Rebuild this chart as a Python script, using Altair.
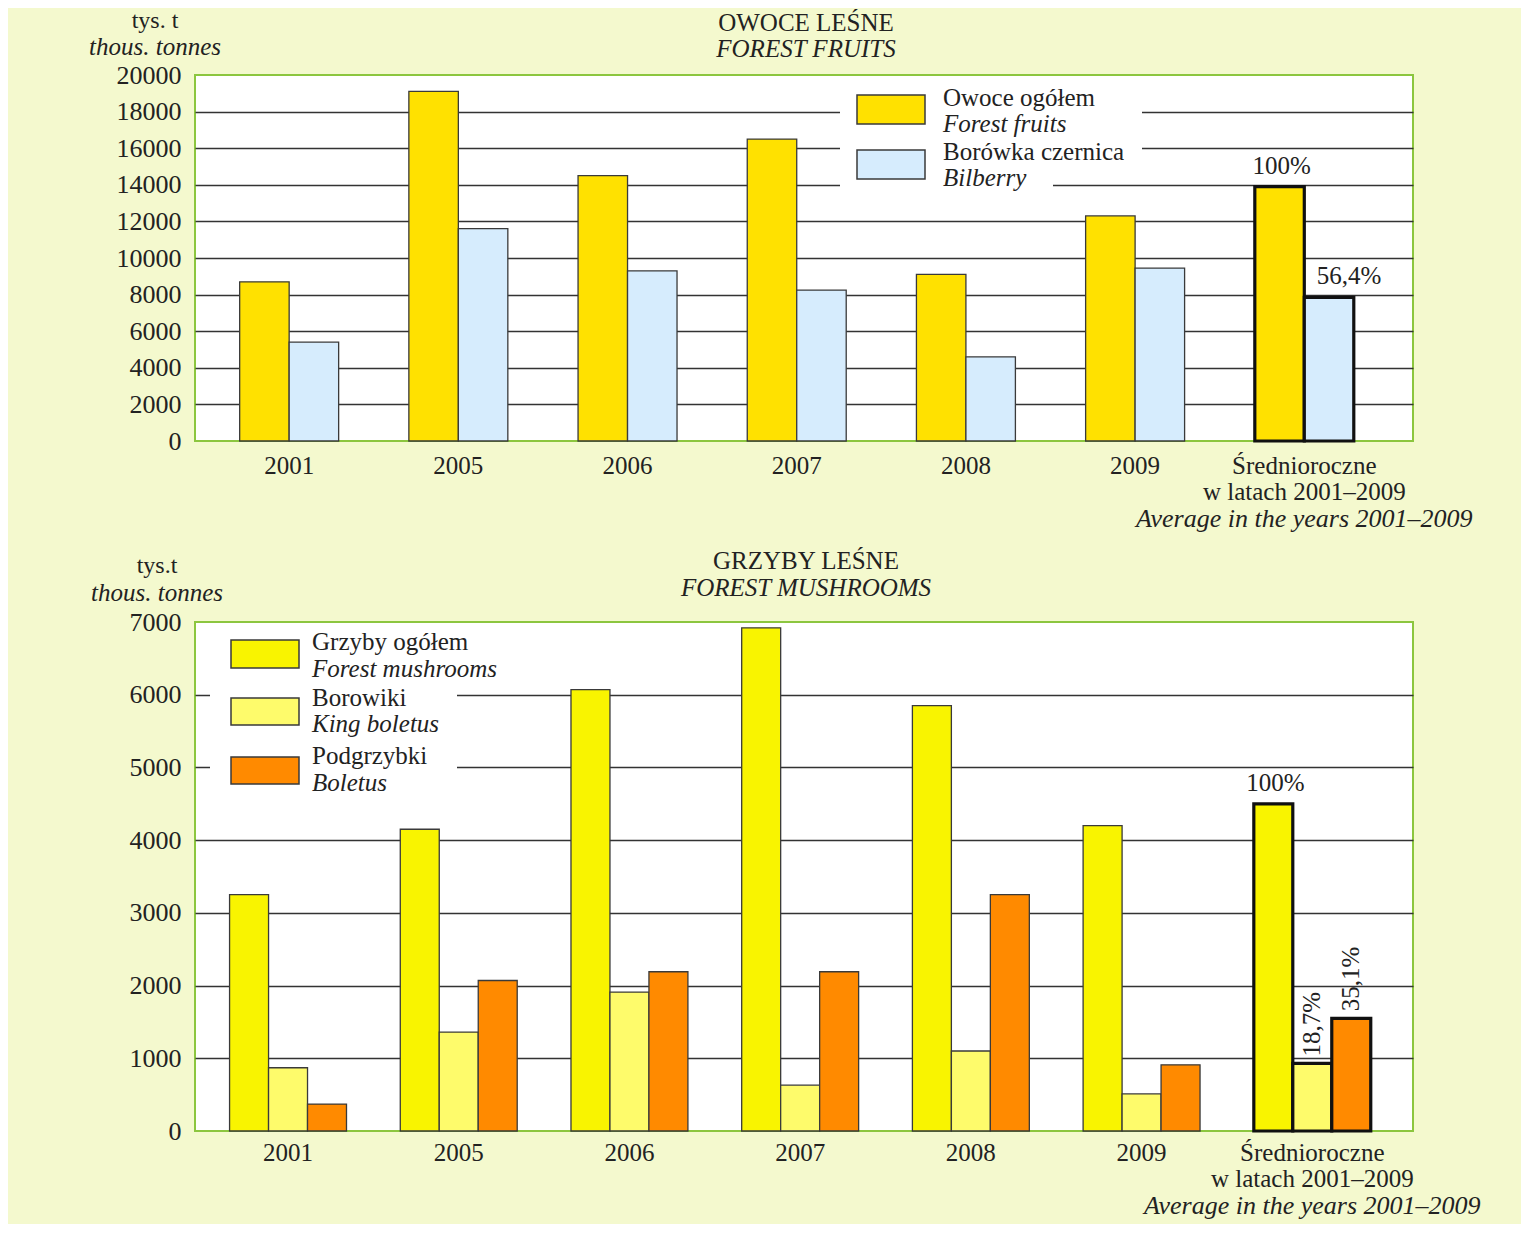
import altair as alt
import pandas as pd

SERIF = "Liberation Serif"
BG = "#F4F9CE"
TXT = "#222222"

cats = ["2001", "2005", "2006", "2007", "2008", "2009", "Średnioroczne|w latach 2001–2009"]
AVG = cats[-1]
avg_en = "Average in the years 2001–2009"

# Forest fruits (thous. tonnes)
fruit_series = ["Owoce ogółem", "Borówka czernica"]
fruit_series_en = ["Forest fruits", "Bilberry"]
fruit_colors = ["#FFE100", "#D6ECFD"]
fruit_total = [8700, 19100, 14500, 16500, 9100, 12300, 13900]
bilberry = [5400, 11600, 9300, 8250, 4600, 9450, 7850]
fruit_pct = ["100%", "56,4%"]

# Forest mushrooms (thous. tonnes)
mush_series = ["Grzyby ogółem", "Borowiki", "Podgrzybki"]
mush_series_en = ["Forest mushrooms", "King boletus", "Boletus"]
mush_colors = ["#F9F400", "#FEFB6B", "#FF8A00"]
mush_total = [3250, 4150, 6070, 6920, 5850, 4200, 4500]
king = [870, 1360, 1910, 630, 1100, 510, 930]
boletus = [370, 2070, 2190, 2190, 3250, 910, 1550]
mush_pct = ["100%", "18,7%", "35,1%"]


def long_df(series, values):
    return pd.DataFrame([
        {"cat": c, "series": s, "value": v}
        for s, vals in zip(series, values) for c, v in zip(cats, vals)
    ])


def pct_df(series, values, labels):
    return pd.DataFrame([
        {"cat": AVG, "series": s, "value": vals[-1], "label": lab}
        for s, vals, lab in zip(series, values, labels)
    ])


ONE = alt.Data(values=[{}])


def panel(df, pdf, series, series_en, colors, ymax, ystep, W, H, pin, pout, palign,
          xlab_pad, title_pl, title_en, unit_pl, pos):
    xaxis = alt.Axis(title=None, labelExpr="split(datum.label, '|')", labelAngle=0,
                     labelBaseline="top", labelLineHeight=26, labelPadding=xlab_pad,
                     labelFont=SERIF, labelFontSize=25, labelColor=TXT, labelLimit=0,
                     domain=False, ticks=False, labelOverlap=False)
    yaxis = alt.Axis(title=None, values=list(range(0, ymax + 1, ystep)), format="d",
                     grid=True, gridColor="#333333", gridWidth=1.5,
                     gridOpacity={"condition": {"test": f"datum.value <= 0 || datum.value >= {ymax}", "value": 0}, "value": 1},
                     domain=False, ticks=False, labelFont=SERIF, labelFontSize=26,
                     labelColor=TXT, labelPadding=14, labelBaseline="middle")

    def X():
        return alt.X("cat:N", sort=cats,
                     scale=alt.Scale(paddingInner=pin, paddingOuter=pout, align=palign), axis=xaxis)

    def XO():
        return alt.XOffset("series:N", sort=series,
                           scale=alt.Scale(domain=series, paddingInner=0, paddingOuter=0))

    def Y():
        return alt.Y("value:Q", scale=alt.Scale(domain=[0, ymax], nice=False, zero=True), axis=yaxis)

    is_avg = alt.datum.cat == AVG
    bars = alt.Chart(df).mark_bar().encode(
        x=X(), xOffset=XO(), y=Y(),
        color=alt.Color("series:N", scale=alt.Scale(domain=series, range=colors), legend=None),
        stroke=alt.when(is_avg).then(alt.value("#111111")).otherwise(alt.value("#3a3a3a")),
        strokeWidth=alt.when(is_avg).then(alt.value(3.2)).otherwise(alt.value(1.3)),
    )
    layers = [bars]

    # percentage labels above the average bars
    for s, style in zip(series, pos["pct_style"]):
        base = alt.Chart(pdf).transform_filter(alt.datum.series == s)
        if style[0] == "rot":
            mk = base.mark_text(font=SERIF, fontSize=25, angle=270, align="left",
                                baseline="middle", dx=7, color=TXT)
        else:
            mk = base.mark_text(font=SERIF, fontSize=25, baseline="alphabetic",
                                dy=-13, dx=style[1], color=TXT)
        layers.append(mk.encode(x=X(), xOffset=XO(), y=Y(), text="label:N"))

    # italic English line under the average category
    layers.append(alt.Chart(pd.DataFrame({"cat": [AVG]})).mark_text(
        font=SERIF, fontSize=26, fontStyle="italic", color=TXT, baseline="middle").encode(
        x=X(), y=alt.value(H + pos["avg_y"]), text=alt.value(avg_en)))

    # legend white backgrounds
    for (x1, x2, y1, y2) in pos["leg_bg"]:
        layers.append(alt.Chart(ONE).mark_rect(color="white").encode(
            x=alt.value(x1), x2=alt.value(x2), y=alt.value(y1), y2=alt.value(y2)))
    # legend symbols and labels
    for i, (s, se, c) in enumerate(zip(series, series_en, colors)):
        sy1, sy2 = pos["sym_y"][i]
        layers.append(alt.Chart(ONE).mark_rect(color=c, stroke="#3a3a3a", strokeWidth=1.5).encode(
            x=alt.value(pos["sym_x"][0]), x2=alt.value(pos["sym_x"][1]),
            y=alt.value(sy1), y2=alt.value(sy2)))
        ty1, ty2 = pos["txt_y"][i]
        layers.append(alt.Chart(ONE).mark_text(font=SERIF, fontSize=25, align="left",
                                               baseline="middle", color=TXT).encode(
            x=alt.value(pos["txt_x"]), y=alt.value(ty1), text=alt.value(s)))
        layers.append(alt.Chart(ONE).mark_text(font=SERIF, fontSize=25, align="left",
                                               baseline="middle", fontStyle="italic", color=TXT).encode(
            x=alt.value(pos["txt_x"]), y=alt.value(ty2), text=alt.value(se)))

    # titles and unit labels
    layers.append(alt.Chart(ONE).mark_text(font=SERIF, fontSize=25, baseline="middle", color=TXT).encode(
        x=alt.value(W / 2 + 2), y=alt.value(pos["title_y"][0]), text=alt.value(title_pl)))
    layers.append(alt.Chart(ONE).mark_text(font=SERIF, fontSize=25, baseline="middle",
                                           fontStyle="italic", color=TXT).encode(
        x=alt.value(W / 2 + 2), y=alt.value(pos["title_y"][1]), text=alt.value(title_en)))
    layers.append(alt.Chart(ONE).mark_text(font=SERIF, fontSize=24, baseline="middle", color=TXT).encode(
        x=alt.value(pos["unit_x"]), y=alt.value(pos["unit_y"][0]), text=alt.value(unit_pl)))
    layers.append(alt.Chart(ONE).mark_text(font=SERIF, fontSize=25, baseline="middle",
                                           fontStyle="italic", color=TXT).encode(
        x=alt.value(pos["unit_x"]), y=alt.value(pos["unit_y"][1]), text=alt.value("thous. tonnes")))

    return alt.layer(*layers).properties(width=W, height=H)


fruit_df = long_df(fruit_series, [fruit_total, bilberry])
fruit_pdf = pct_df(fruit_series, [fruit_total, bilberry], fruit_pct)
mush_df = long_df(mush_series, [mush_total, king, boletus])
mush_pdf = pct_df(mush_series, [mush_total, king, boletus], mush_pct)

top = panel(fruit_df, fruit_pdf, fruit_series, fruit_series_en, fruit_colors,
            20000, 2000, 1218, 366, 0.415, 0.307, 0.43, 12,
            "OWOCE LEŚNE", "FOREST FRUITS", "tys. t",
            {"avg_y": 78, "leg_bg": [(645, 947, 10, 95), (645, 858, 95, 120)],
             "sym_x": (662, 730), "sym_y": [(20, 49), (75, 104)], "txt_x": 748,
             "txt_y": [(23, 49), (77, 103)], "title_y": (-52, -26),
             "unit_x": -40, "unit_y": (-54, -28),
             "pct_style": [("flat", 2), ("flat", 20)]})

bottom = panel(mush_df, mush_pdf, mush_series, mush_series_en, mush_colors,
               7000, 1000, 1218, 509, 0.315, 0.225, 0.45, 9,
               "GRZYBY LEŚNE", "FOREST MUSHROOMS", "tys.t",
               {"avg_y": 75, "leg_bg": [(15, 262, 60, 170)],
                "sym_x": (36, 104), "sym_y": [(18, 46), (76, 103), (135, 162)], "txt_x": 117,
                "txt_y": [(20, 47), (76, 102), (134, 161)], "title_y": (-61, -34),
                "unit_x": -38, "unit_y": (-56, -29),
                "pct_style": [("flat", 2), ("rot", 0), ("rot", 0)]})

chart = alt.vconcat(top, bottom, spacing=15).resolve_scale(
    x="independent", y="independent", color="independent", xOffset="independent"
).properties(
    background=BG,
    padding={"left": 80, "top": 0, "right": 39, "bottom": 4},
).configure_view(fill="white", stroke="#8CC63F", strokeWidth=2)

chart.save("out.html", embed_options={"renderer": "svg", "actions": False})
